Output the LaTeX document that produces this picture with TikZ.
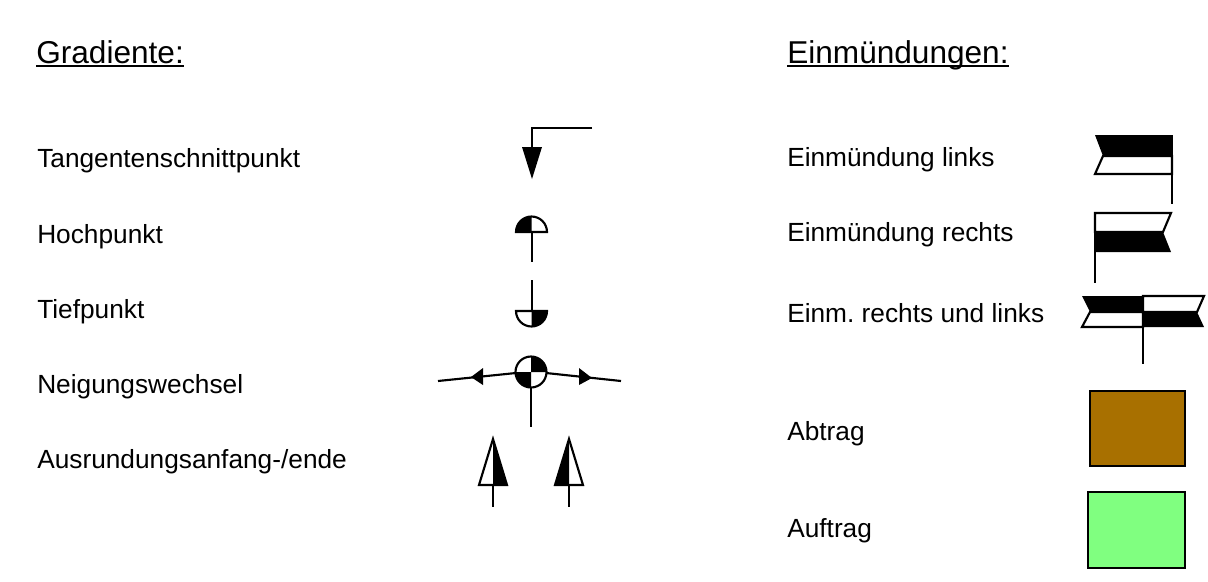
\documentclass[tikz,border=0pt]{standalone}
\usepackage{fontspec}
\setmainfont{Liberation Sans}
\usepackage{xcolor}
\frenchspacing
\definecolor{abtrag}{RGB}{168,112,0}
\definecolor{auftrag}{RGB}{128,255,128}
\tikzset{
  head/.style={anchor=base west, inner sep=0pt, font=\fontsize{23.7}{28}\selectfont},
  lab/.style={anchor=base west, inner sep=0pt, font=\fontsize{19.7}{23}\selectfont},
  sym/.style={line width=1.6pt, line join=miter},
  wht/.style={fill=white, draw=black, line width=1.6pt}
}
\begin{document}
\begin{tikzpicture}[x=0.75pt,y=-0.75pt]
    \useasboundingbox (0,0) rectangle (1208,582);
    % headings
    \node[head] (gradiente) at (36,63) {Gradiente:};
    \node[head] (einmuendungen) at (787,63) {Einmündungen:};
    \draw[sym] ([yshift=-2.4pt]gradiente.base west) -- ([yshift=-2.4pt]gradiente.base east);
    \draw[sym] ([yshift=-2.4pt]einmuendungen.base west) -- ([yshift=-2.4pt]einmuendungen.base east);
    % left labels
    \node[lab] (tangente) at (37,167) {Tangentenschnittpunkt};
    \node[lab] (hoch) at (37,243) {Hochpunkt};
    \node[lab] (tief) at (37,318) {Tiefpunkt};
    \node[lab] (neigung) at (37,393) {Neigungswechsel};
    \node[lab] (ausrundung) at (37,468) {Ausrundungsanfang-/ende};
    % right labels
    \node[lab] (links) at (787,166) {Einmündung links};
    \node[lab] (rechts) at (787,241) {Einmündung rechts};
    \node[lab] (beide) at (787,322) {Einm. rechts und links};
    \node[lab] (abtragtext) at (787,440) {Abtrag};
    \node[lab] (auftragtext) at (787,537) {Auftrag};
    % tangentenschnittpunkt
    \draw[sym] (592,128) -- (532,128) -- (532,147);
    \fill (522,147) -- (542,147) -- (532,179) -- cycle;
    % hochpunkt
    \draw[sym] (532,232) -- (532,262);
    \draw[wht] (516,232) arc[start angle=180,end angle=360,radius=15.5] -- cycle;
    \fill (516,232) arc[start angle=180,end angle=270,radius=15.5] -- (531.5,232) -- cycle;
    % tiefpunkt
    \draw[sym] (532,280) -- (532,311);
    \draw[wht] (516,311) arc[start angle=180,end angle=0,radius=15.5] -- cycle;
    \fill (547,311) arc[start angle=0,end angle=90,radius=15.5] -- (531.5,311) -- cycle;
    % neigungswechsel
    \draw[sym] (531,388) -- (531,427);
    \draw[sym] (438,381) -- (516,373);
    \draw[sym] (546,373) -- (621,381);
    \fill (471,377) -- (483,368) -- (483,385) -- cycle;
    \fill (592,378) -- (579,368) -- (579,385) -- cycle;
    \draw[wht] (531,372) circle[radius=15.5];
    \fill (531,372) -- (531,356.5) arc[start angle=270,end angle=360,radius=15.5] -- cycle;
    \fill (531,372) -- (515.5,372) arc[start angle=180,end angle=90,radius=15.5] -- cycle;
    % ausrundung
    \draw[sym] (493,485) -- (493,507);
    \draw[wht] (493,439) -- (507,485) -- (479,485) -- cycle;
    \fill (493,439) -- (507,485) -- (493,485) -- cycle;
    \draw[sym] (569,485) -- (569,507);
    \draw[wht] (569,439) -- (583,485) -- (555,485) -- cycle;
    \fill (569,439) -- (555,485) -- (569,485) -- cycle;
    % einmuendung links
    \draw[sym] (1172,135) -- (1172,204);
    \draw[wht] (1103,156) -- (1095,174) -- (1172,174) -- (1172,156) -- cycle;
    \fill (1095,135) -- (1172,135) -- (1172,156) -- (1103,156) -- cycle;
    % einmuendung rechts
    \draw[sym] (1095,213) -- (1095,283);
    \draw[wht] (1095,213) -- (1171,213) -- (1163,232) -- (1095,232) -- cycle;
    \fill (1095,232) -- (1163,232) -- (1171,252) -- (1095,252) -- cycle;
    % einmuendung rechts und links
    \draw[sym] (1143,327) -- (1143,364);
    \draw[wht] (1090,312) -- (1082,327) -- (1143,327) -- (1143,312) -- cycle;
    \draw[wht] (1143,296) -- (1204,296) -- (1197,312) -- (1143,312) -- cycle;
    \fill (1082,296) -- (1143,296) -- (1143,312) -- (1090,312) -- cycle;
    \fill (1143,312) -- (1197,312) -- (1204,327) -- (1143,327) -- cycle;
    % flaechen
    \draw[fill=abtrag, line width=1pt] (1090,391) rectangle (1185,466);
    \draw[fill=auftrag, line width=1pt] (1088,492) rectangle (1185,568);
\end{tikzpicture}
\end{document}
